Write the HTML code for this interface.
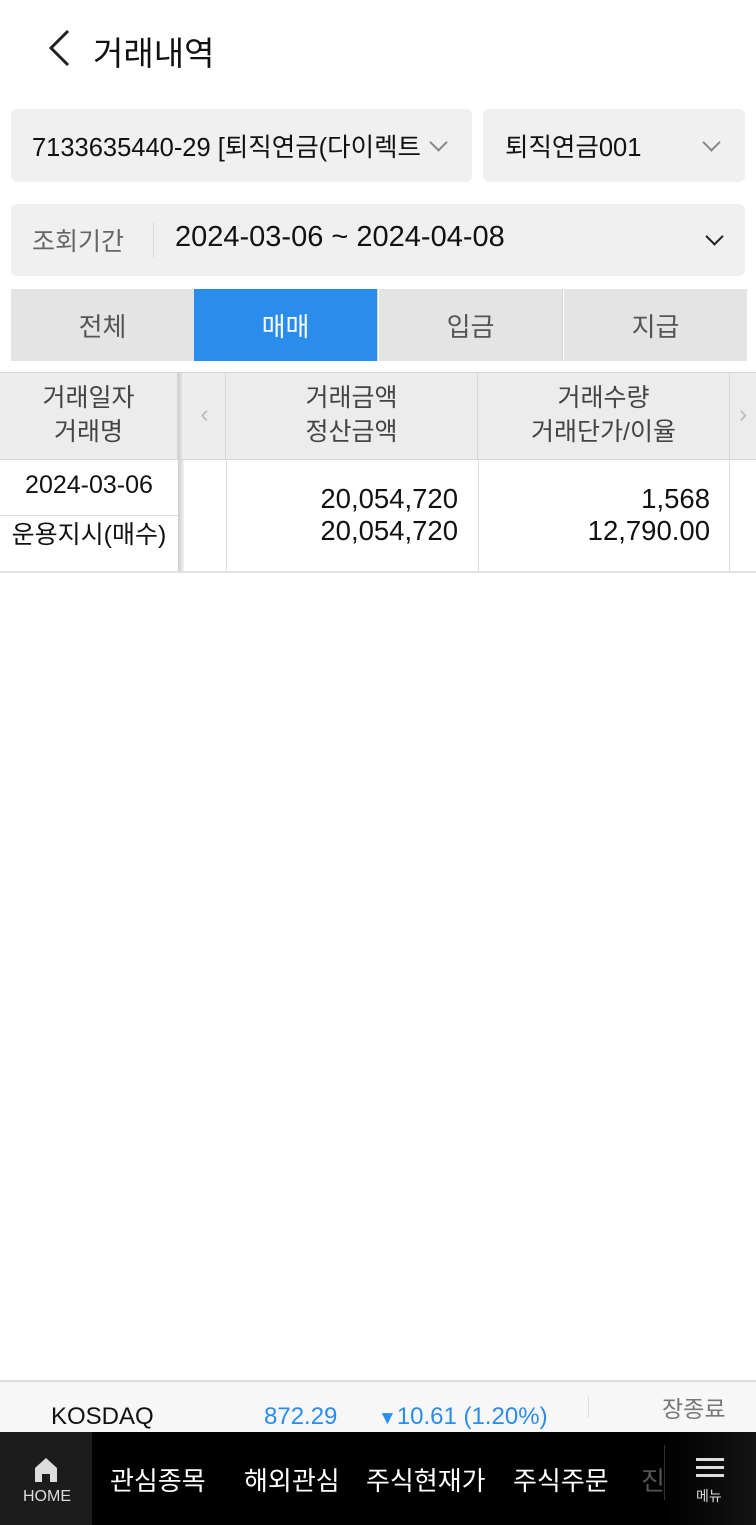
<!DOCTYPE html>
<html><head><meta charset="utf-8"><style>
*{margin:0;padding:0;box-sizing:border-box}
body{width:756px;height:1525px;position:relative;background:#fff;font-family:"Liberation Sans","Noto Sans CJK KR",sans-serif;overflow:hidden;color:#111}
.a{position:absolute;white-space:nowrap}
.box{position:absolute;background:#f0f0f0;border-radius:6px}
.chev{position:absolute;width:13px;height:13px;border-right:2px solid #888;border-bottom:2px solid #888;transform:rotate(45deg)}
.tab{position:absolute;top:289px;height:72px;width:184px;background:#e4e4e4;color:#555;font-size:26px;display:flex;align-items:center;justify-content:center;border-right:1px solid #d4d4d4}
.hd{position:absolute;top:373px;height:87px;background:#ececec;border-right:1px solid #d6d6d6;font-size:25px;color:#444;text-align:center;line-height:34px;padding-top:8px}
.nv{position:absolute;top:1461px;color:#fff;font-size:26px}
</style></head><body>
<svg class="a" style="left:44px;top:28px" width="30" height="40"><polyline points="24,3 7,20 24,37" fill="none" stroke="#222" stroke-width="3"/></svg>
<div class="a" style="left:93px;top:27px;font-size:33px">거래내역</div>

<div class="box" style="left:11px;top:109px;width:461px;height:73px"></div>
<div class="a" style="left:32px;top:127px;font-size:25.5px;width:395px;overflow:hidden">7133635440-29 [퇴직연금(다이렉트</div>
<div class="chev" style="left:432px;top:136px"></div>
<div class="box" style="left:483px;top:109px;width:262px;height:73px"></div>
<div class="a" style="left:505px;top:127px;font-size:25.5px">퇴직연금001</div>
<div class="chev" style="left:705px;top:136px"></div>

<div class="box" style="left:11px;top:204px;width:734px;height:72px"></div>
<div class="a" style="left:32px;top:222px;font-size:25px;color:#666">조회기간</div>
<div class="a" style="left:153px;top:222px;width:1px;height:36px;background:#d8d8d8"></div>
<div class="a" style="left:175px;top:221px;font-size:29px">2024-03-06 ~ 2024-04-08</div>
<div class="chev" style="left:708px;top:230px;border-color:#222"></div>

<div class="tab" style="left:11px">전체</div>
<div class="tab" style="left:194px;background:#2a8ceb;color:#fff">매매</div>
<div class="tab" style="left:379px">입금</div>
<div class="tab" style="left:564px;width:183px;border:none">지급</div>

<div class="a" style="left:0;top:372px;width:756px;height:1px;background:#d6d6d6"></div>
<div class="hd" style="left:0;width:178px">거래일자<br>거래명</div>
<div class="hd" style="left:184px;width:42px;color:#bbb;padding-top:24px">&lsaquo;</div>
<div class="hd" style="left:226px;width:252px">거래금액<br>정산금액</div>
<div class="hd" style="left:478px;width:252px">거래수량<br>거래단가/이율</div>
<div class="hd" style="left:730px;width:26px;color:#bbb;padding-top:24px;border:none">&rsaquo;</div>
<div class="a" style="left:178px;top:373px;width:6px;height:200px;background:linear-gradient(90deg,#ccc,#f2f2f2)"></div>
<div class="a" style="left:0;top:459px;width:756px;height:1px;background:#d6d6d6"></div>
<div class="a" style="left:226px;top:459px;width:1px;height:113px;background:#ddd"></div>
<div class="a" style="left:478px;top:459px;width:1px;height:113px;background:#ddd"></div>
<div class="a" style="left:729px;top:459px;width:1px;height:113px;background:#ddd"></div>
<div class="a" style="left:0;top:515px;width:178px;height:1px;background:#ddd"></div>
<div class="a" style="left:0;top:571px;width:756px;height:2px;background:#e2e2e2"></div>
<div class="a" style="left:0;width:178px;text-align:center;top:471px;font-size:25px">2024-03-06</div>
<div class="a" style="left:0;width:178px;text-align:center;top:515px;font-size:25px">운용지시(매수)</div>
<div class="a" style="right:298px;text-align:right;top:483px;font-size:27.5px;line-height:32px">20,054,720<br>20,054,720</div>
<div class="a" style="right:46px;text-align:right;top:483px;font-size:27.5px;line-height:32px">1,568<br>12,790.00</div>

<div class="a" style="left:0;top:1380px;width:756px;height:52px;background:#f7f7f7;border-top:2px solid #ddd"></div>
<div class="a" style="left:51px;top:1403px;font-size:24px">KOSDAQ</div>
<div class="a" style="left:264px;top:1403px;font-size:24px;color:#2a8ceb">872.29</div>
<div class="a" style="left:378px;top:1403px;font-size:24px;color:#2a8ceb"><span style="font-size:19px">▼</span>10.61 (1.20%)</div>
<div class="a" style="left:588px;top:1396px;width:1px;height:22px;background:#ddd"></div>
<div class="a" style="left:662px;top:1390px;font-size:23px;color:#777">장종료</div>

<div class="a" style="left:0;top:1432px;width:756px;height:93px;background:#000"></div>
<div class="a" style="left:0;top:1432px;width:92px;height:93px;background:#1c1c1c"></div>
<svg class="a" style="left:32px;top:1456px" width="28" height="28"><path d="M3 12 L14 2 L25 12 V26 H18 V18 H10 V26 H3Z" fill="#ddd"/></svg>
<div class="a" style="left:23px;top:1488px;font-size:16px;color:#ddd">HOME</div>
<div class="nv" style="left:110px">관심종목</div>
<div class="nv" style="left:244px">해외관심</div>
<div class="nv" style="left:366px">주식현재가</div>
<div class="nv" style="left:513px">주식주문</div>
<div class="nv" style="left:641px;color:#555">진</div>
<div class="a" style="left:664px;top:1432px;width:92px;height:93px;background:linear-gradient(90deg,#000,#141414)"></div>
<div class="a" style="left:664px;top:1445px;width:1px;height:55px;background:#333"></div>
<div class="a" style="left:696px;top:1458px;width:28px;height:3px;background:#ddd;box-shadow:0 8px 0 #ddd,0 16px 0 #ddd"></div>
<div class="a" style="left:696px;top:1486px;font-size:14px;color:#ddd">메뉴</div>
</body></html>
